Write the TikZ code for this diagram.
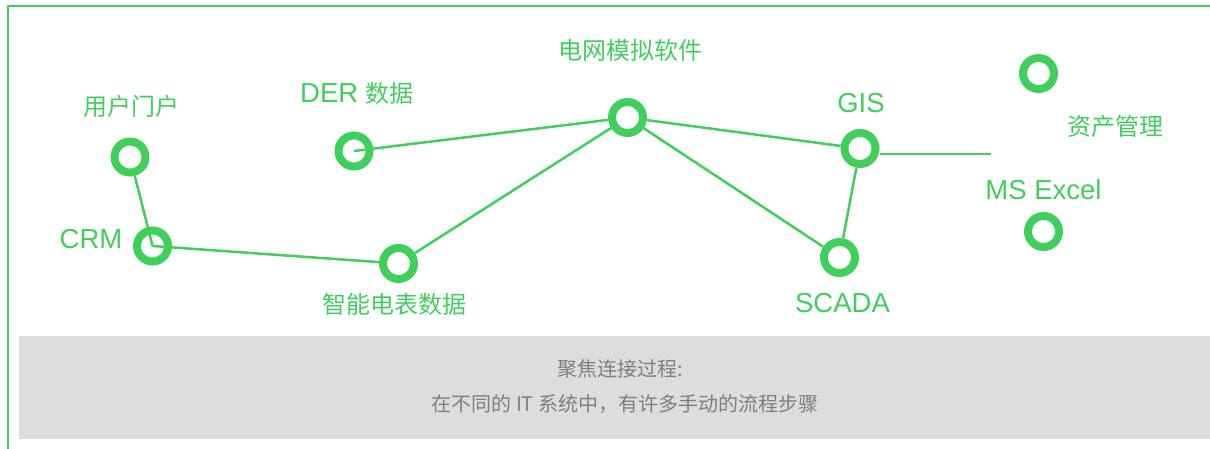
\documentclass[tikz,border=0pt]{standalone}
\usepackage{fontspec}
\setmainfont{Liberation Sans}
\newfontfamily\cjk{Noto Sans CJK SC}
\definecolor{grn}{HTML}{40CF5A}
\definecolor{boxgray}{HTML}{DCDDDF}
\definecolor{txtgray}{HTML}{7F7F7F}
\begin{document}
\begin{tikzpicture}[x=1pt,y=-1pt,
  ring/.style={circle,draw=grn,line width=8pt,minimum size=31pt,inner sep=0pt},
  conn/.style={draw=grn,line width=2.5pt},
  lab/.style={text=grn,anchor=base,inner sep=0pt},
  cjklab/.style={lab,font=\cjk\fontsize{24}{28}\selectfont},
  latlab/.style={lab,font=\fontsize{27.5}{32}\selectfont},
  graytxt/.style={text=txtgray,anchor=base,inner sep=0pt,font=\cjk\fontsize{20}{24}\selectfont}]
\useasboundingbox (0,0) rectangle (1210,449);
% frame
\draw[grn,line width=2pt] (1210,6) -- (8,6) -- (8,449);
% gray box
\fill[boxgray] (19,336) rectangle (1210,439);
\node[graytxt] (t1) at (620,376.5) {聚焦连接过程:};
\node[graytxt] (t2) at (625,411.5) {在不同的 IT 系统中，有许多手动的流程步骤};
% circles
\node[ring] (portal) at (130,157) {};
\node[ring] (crm) at (152.5,246) {};
\node[ring] (der) at (354,151) {};
\node[ring] (meter) at (398.5,263.5) {};
\node[ring] (grid) at (627.5,117.5) {};
\node[ring] (gis) at (860,148.5) {};
\node[ring] (scada) at (839.5,257.5) {};
\node[ring] (asset) at (1038.5,73.5) {};
\node[ring] (excel) at (1043.5,231.5) {};
\coordinate (gisend) at (990.5,154);
% labels
\node[cjklab] (lportal) at (131.5,115.5) {用户门户};
\node[latlab] (lcrm) at (91,248) {CRM};
\node[latlab] (lder) at (357,103) {DER\ {\cjk\fontsize{24}{28}\selectfont 数据}};
\node[cjklab] (lmeter) at (394.5,313) {智能电表数据};
\node[cjklab] (lgrid) at (630,60) {电网模拟软件};
\node[latlab] (lgis) at (861,113) {GIS};
\node[latlab] (lscada) at (842.5,312) {SCADA};
\node[cjklab] (lasset) at (1115,136) {资产管理};
\node[latlab] (lexcel) at (1043.5,200) {MS Excel};
% connectors
\draw[conn] (portal) -- (crm.center);
\draw[conn] (crm.center) -- (meter);
\draw[conn] (der.center) -- (grid);
\draw[conn] (meter) -- (grid);
\draw[conn] (grid) -- (gis);
\draw[conn] (grid) -- (scada);
\draw[conn] (scada) -- (gis);
\draw[conn] (gis.east |- gisend) -- (gisend);
\end{tikzpicture}
\end{document}
